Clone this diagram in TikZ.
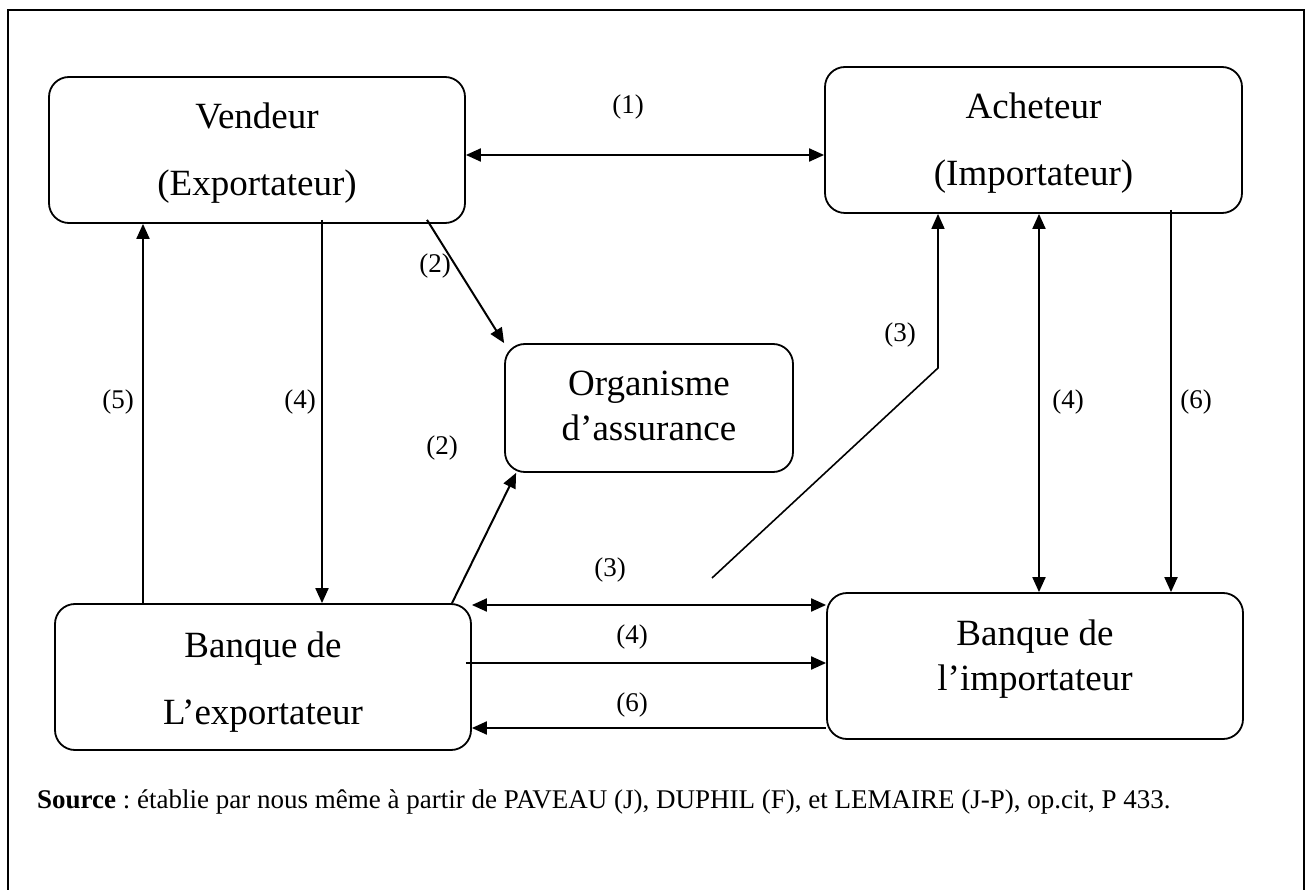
\documentclass[tikz,border=0pt]{standalone}
\usepackage{fontspec}
\setmainfont{Liberation Serif}
\usetikzlibrary{arrows.meta}
\frenchspacing
\begin{document}
\begin{tikzpicture}[x=1pt,y=-1pt,
  box/.style={draw, line width=1.8pt, rounded corners=20pt, inner sep=0pt},
  txt/.style={align=center, inner sep=0pt, font=\fontsize{37}{67}\selectfont},
  txtb/.style={align=center, inner sep=0pt, font=\fontsize{37}{45}\selectfont},
  lbl/.style={inner sep=0pt, font=\fontsize{27}{30}\selectfont},
  arr/.style={line width=2pt, -{Triangle[length=15pt,width=13pt]}},
  dbl/.style={line width=2pt, {Triangle[length=15pt,width=13pt]}-{Triangle[length=15pt,width=13pt]}},
  plain/.style={line width=1.6pt}]
\useasboundingbox (0,0) rectangle (1309,890);
\fill[white] (0,0) rectangle (1309,890);
% outer frame (open at the bottom)
\draw[line width=2pt] (8,900) -- (8,10) -- (1304,10) -- (1304,900);

% boxes
\node[box, minimum width=416pt, minimum height=146pt] (V)  at (257,150) {};
\node[box, minimum width=417pt, minimum height=146pt] (A)  at (1033.5,140) {};
\node[box, minimum width=288pt, minimum height=128pt] (O)  at (649,408) {};
\node[box, minimum width=416pt, minimum height=146pt] (BE) at (263,677) {};
\node[box, minimum width=416pt, minimum height=146pt] (BI) at (1035,666) {};

% box texts
\node[txt]  (Vt)  at (257,153)  {Vendeur\\(Exportateur)};
\node[txt]  (At)  at (1033.5,143) {Acheteur\\(Importateur)};
\node[txtb] (Ot)  at (649,406)  {Organisme\\d’assurance};
\node[txt]  (BEt) at (263,682)  {Banque de\\L’exportateur};
\node[txtb] (BIt) at (1035,659) {Banque de\\l’importateur};

% (1) seller <-> buyer
\draw[dbl] (V.east |- 0,155) -- (A.west |- 0,155);
\node[lbl] (l1) at (628,107) {(1)};

% (2) to the insurer
\draw[arr] ([xshift=170pt,yshift=4pt]V.south) -- (O.north west);
\node[lbl] (l2a) at (435,266) {(2)};
\draw[arr] ([xshift=189pt]BE.north) -- ([xshift=12pt]O.south west);
\node[lbl] (l2b) at (442,448) {(2)};

% left verticals
\draw[arr] (BE.north -| 143,0) -- (V.south -| 143,0);
\node[lbl] (l5) at (118,402) {(5)};
\draw[arr] ([yshift=4pt]V.south -| 322,0) -- (BE.north -| 322,0);
\node[lbl] (l4a) at (300,402) {(4)};

% bank-to-bank flows
\draw[dbl] (BE.east |- 0,605) -- (BI.west |- 0,605);
\node[lbl] (l3b) at (610,570) {(3)};
\draw[arr] ([xshift=-6pt]BE.east |- 0,663) -- (BI.west |- 0,663);
\node[lbl] (l4b) at (632,637) {(4)};
\draw[arr] (BI.west |- 0,728) -- (BE.east |- 0,728);
\node[lbl] (l6b) at (632,705) {(6)};

% (3) bent line up to the buyer
\coordinate (c3a) at (712,578);
\coordinate (c3b) at (938,368);
\draw[line width=1.6pt, -{Triangle[length=15pt,width=13pt]}] (c3a) -- (c3b) -- (A.south -| c3b);
\node[lbl] (l3a) at (900,335) {(3)};

% right verticals
\draw[dbl] (A.south -| 1039,0) -- (BI.north -| 1039,0);
\node[lbl] (l4c) at (1068,402) {(4)};
\draw[arr] ([yshift=4pt]A.south -| 1171,0) -- (BI.north -| 1171,0);
\node[lbl] (l6c) at (1196,402) {(6)};

% source line
\node[anchor=base west, inner sep=0pt, font=\fontsize{27}{30}\selectfont\frenchspacing] (src) at (37,808)
  {\textbf{Source} : établie par nous même à partir de PAVEAU (J), DUPHIL (F), et LEMAIRE (J-P), op.cit, P 433.};
\end{tikzpicture}
\end{document}
